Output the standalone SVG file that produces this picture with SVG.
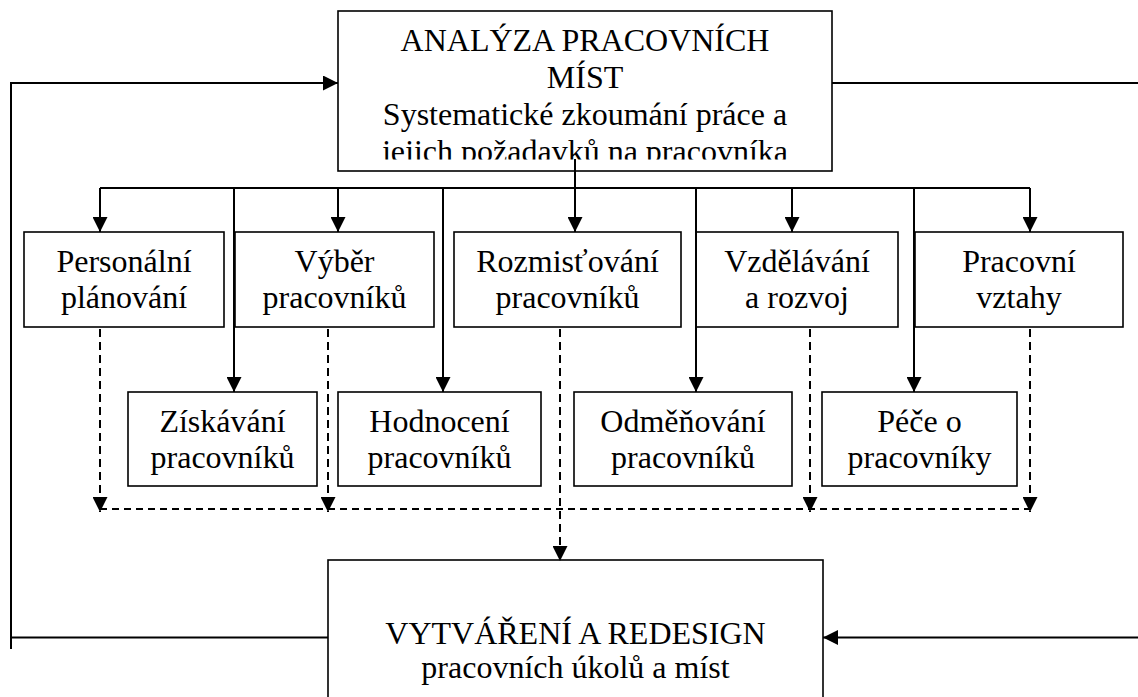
<svg xmlns="http://www.w3.org/2000/svg" width="1138" height="697" viewBox="0 0 1138 697">
<style>
.box{fill:#fff;stroke:#000;stroke-width:1.6}
.t{font-family:"Liberation Serif","Times New Roman",serif;font-size:32px;fill:#000;text-anchor:middle}
.ln{fill:none;stroke:#000;stroke-width:2}
.dash{fill:none;stroke:#000;stroke-width:2;stroke-dasharray:8,5}
.dashh{fill:none;stroke:#000;stroke-width:2;stroke-dasharray:7,5}
</style>
<defs>
<marker id="ah" viewBox="0 0 14 14" refX="14" refY="7" markerWidth="15" markerHeight="15" orient="auto" markerUnits="userSpaceOnUse">
<path d="M0,0 L14,7 L0,14 z" fill="#000"/>
</marker>
<clipPath id="topclip"><rect x="338" y="11" width="494" height="148.5"/></clipPath>
</defs>
<rect width="1138" height="697" fill="#fff"/>

<g id="analyza">
<rect class="box" x="338" y="11" width="494" height="160"/>
<g clip-path="url(#topclip)">
<text class="t" x="585" y="51">ANALÝZA PRACOVNÍCH</text>
<text class="t" x="585" y="88">MÍST</text>
<text class="t" x="585" y="125">Systematické zkoumání práce a</text>
<text class="t" x="585" y="162">jejich požadavků na pracovníka</text>
</g>
</g>

<g id="personalni">
<rect class="box" x="24" y="232" width="200" height="95"/>
<text class="t" x="124" y="272">Personální</text>
<text class="t" x="124" y="308">plánování</text>
</g>
<g id="vyber">
<rect class="box" x="235" y="232" width="199" height="95"/>
<text class="t" x="334.5" y="272">Výběr</text>
<text class="t" x="334.5" y="308">pracovníků</text>
</g>
<g id="rozmistovani">
<rect class="box" x="454" y="232" width="227" height="95"/>
<text class="t" x="567.5" y="272">Rozmisťování</text>
<text class="t" x="567.5" y="308">pracovníků</text>
</g>
<g id="vzdelavani">
<rect class="box" x="696" y="232" width="202" height="95"/>
<text class="t" x="797" y="272">Vzdělávání</text>
<text class="t" x="797" y="308">a rozvoj</text>
</g>
<g id="pracovni-vztahy">
<rect class="box" x="915" y="232" width="208" height="95"/>
<text class="t" x="1019" y="272">Pracovní</text>
<text class="t" x="1019" y="308">vztahy</text>
</g>

<g id="ziskavani">
<rect class="box" x="128" y="392" width="189" height="94"/>
<text class="t" x="222.5" y="432">Získávání</text>
<text class="t" x="222.5" y="468">pracovníků</text>
</g>
<g id="hodnoceni">
<rect class="box" x="338" y="392" width="203" height="94"/>
<text class="t" x="439.5" y="432">Hodnocení</text>
<text class="t" x="439.5" y="468">pracovníků</text>
</g>
<g id="odmenovani">
<rect class="box" x="574" y="392" width="218" height="94"/>
<text class="t" x="683" y="432">Odměňování</text>
<text class="t" x="683" y="468">pracovníků</text>
</g>
<g id="pece">
<rect class="box" x="822" y="392" width="195" height="94"/>
<text class="t" x="919.5" y="432">Péče o</text>
<text class="t" x="919.5" y="468">pracovníky</text>
</g>

<g id="vytvareni">
<rect class="box" x="328" y="560" width="495" height="160"/>
<text class="t" x="575.5" y="644">VYTVÁŘENÍ A REDESIGN</text>
<text class="t" x="575.5" y="678">pracovních úkolů a míst</text>
</g>

<g id="connectors">
<path class="ln" d="M100,188 H1030"/>
<path class="ln" d="M100,188 V232" marker-end="url(#ah)"/>
<path class="ln" d="M234,188 V392" marker-end="url(#ah)"/>
<path class="ln" d="M338,188 V232" marker-end="url(#ah)"/>
<path class="ln" d="M443,188 V392" marker-end="url(#ah)"/>
<path class="ln" d="M575,159 V232" marker-end="url(#ah)"/>
<path class="ln" d="M696,188 V392" marker-end="url(#ah)"/>
<path class="ln" d="M792,188 V232" marker-end="url(#ah)"/>
<path class="ln" d="M914,188 V392" marker-end="url(#ah)"/>
<path class="ln" d="M1030,188 V232" marker-end="url(#ah)"/>

<path class="dashh" d="M100,509 H1030"/>
<path class="dash" d="M100,329 V512" marker-end="url(#ah)"/>
<path class="dash" d="M328,329 V512" marker-end="url(#ah)"/>
<path class="dash" d="M560,329 V561" marker-end="url(#ah)"/>
<path class="dash" d="M810,329 V512" marker-end="url(#ah)"/>
<path class="dash" d="M1030,329 V512" marker-end="url(#ah)"/>

<path class="ln" d="M11,649 V83 H338" marker-end="url(#ah)"/>
<path class="ln" d="M832,83 H1138"/>
<path class="ln" d="M11,637.5 H328"/>
<path class="ln" d="M1138,637.5 H823" marker-end="url(#ah)"/>
</g>
</svg>
